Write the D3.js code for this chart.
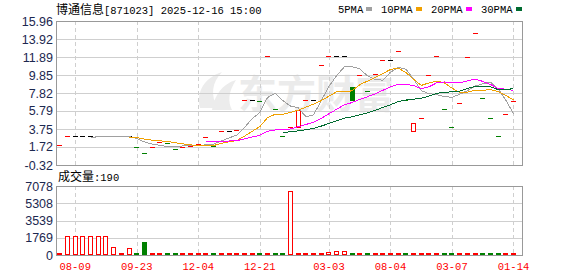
<!DOCTYPE html>
<html>
<head>
<meta charset="utf-8">
<script src="https://cdn.jsdelivr.net/npm/d3@7"></script>
<style>
body { margin: 0; background: #fff; }
text { font-family: "Liberation Sans", Arial, sans-serif; }
.mono { font-family: "Liberation Mono", monospace; font-size: 10.5px; }
.cjk { font-family: "Noto Sans CJK SC", sans-serif; font-size: 12px; }
</style>
</head>
<body>
<div id="chart"></div>
<script>
// ---- data ----
var stockName = "博通信息";
var stockInfo = "[871023] 2025-12-16 15:00";
var volumeLabel = "成交量";
var lastVolume = 190;

var dateLabels = ["08-09", "09-23", "12-04", "12-21", "03-03", "08-04", "03-07", "01-14"];
var labelSlots = [2, 10, 18, 26, 35, 43, 51, 59];

var opens = [1.90, 2.92, 2.92, 2.92, 2.92, 2.92, 2.92, 2.92, 2.92, 2.92,
             1.68, 1.00, 1.68, 2.30, 2.13, 1.46, 1.68, 1.83, 2.07, 2.81,
             1.83, 3.49, 3.49, 3.64, 6.99, 6.99, 6.92, 11.97, 5.98, 2.92,
             3.94, 3.94, 6.99, 6.99, 10.99, 11.97, 11.97, 11.97, 8.48, 9.82,
             8.01, 9.97, 11.52, 11.52, 12.53, 7.03, 3.56, 4.96, 9.82, 11.97,
             5.98, 3.94, 6.65, 11.86, 14.57, 7.22, 4.96, 2.92, 5.41, 6.92];

var closes = [1.90, 2.92, 2.92, 2.92, 2.92, 2.92, 2.92, 2.92, 2.92, 2.92,
              1.68, 1.00, 1.68, 2.30, 2.13, 1.46, 1.68, 1.83, 2.07, 2.81,
              1.83, 3.49, 3.49, 3.64, 6.99, 6.99, 6.92, 11.97, 5.98, 2.92,
              3.94, 5.89, 6.99, 6.99, 10.99, 11.97, 11.97, 11.97, 7.03, 9.82,
              8.01, 9.97, 11.52, 11.52, 12.53, 7.03, 4.39, 4.96, 9.82, 11.97,
              5.98, 3.94, 6.65, 11.86, 14.57, 7.22, 4.96, 2.92, 5.41, 6.92];

var volumes = [60, 1950, 1950, 1950, 1950, 1950, 1950, 790, 40, 690,
               60, 1330, 90, 80, 100, 90, 80, 100, 90, 80,
               90, 100, 80, 90, 100, 80, 90, 100, 90, 80,
               6550, 100, 90, 80, 100, 310, 410, 410, 200, 90,
               100, 80, 90, 200, 100, 90, 80, 100, 90, 80,
               100, 90, 80, 100, 90, 80, 100, 90, 80, 190];

var priceTicks = [15.96, 13.92, 11.89, 9.85, 7.82, 5.79, 3.75, 1.72, -0.32];
var volumeTicks = [7078, 5308, 3539, 1769, 0];
var maPeriods = [5, 10, 20, 30];
var maNames = ["5PMA", "10PMA", "20PMA", "30PMA"];

// ---- layout ----
var width = 578, height = 276;
var left = 56, right = 522;
var priceTop = 21, priceBottom = 165;
var volTop = 186, volBottom = 255;
var maColors = ["#a0a0a0", "#f0a000", "#ff00ff", "#006b30"];
var red = "#ff0000", green = "#008000", grid = "#cfcfcf", frame = "#999";

var svg = d3.select("#chart").append("svg")
    .attr("width", width)
    .attr("height", height);

var xScale = d3.scaleBand()
    .domain(d3.range(closes.length))
    .range([left, left + (right - left) * 0.99])
    .paddingInner(0.35)
    .paddingOuter(0.175);
var bw = xScale.bandwidth();
var cx = i => xScale(i) + bw / 2;

var yPrice = d3.scaleLinear().domain([-0.32, 15.96]).range([priceBottom, priceTop]);
var yVol = d3.scaleLinear().domain([0, 7078]).range([volBottom, volTop]);

// watermark
svg.append("path")
    .attr("d", "M200,108 C196,92 204,78 222,72 C212,82 210,96 218,108 Z M212,110 C214,96 222,84 236,80 C228,92 228,102 232,110 Z")
    .attr("fill", "#ececec");
svg.append("text")
    .attr("x", 238).attr("y", 108)
    .attr("class", "cjk")
    .style("font-size", "39px")
    .style("font-weight", "bold")
    .attr("fill", "#ebebeb")
    .text("东方财富");

// grids
function drawGrid(yScale, ticks, top, bottom) {
  svg.append("g").selectAll("line")
    .data(ticks.slice(1, -1))
    .enter().append("line")
    .attr("x1", left).attr("x2", right)
    .attr("y1", d => Math.round(yScale(d)) + 0.5)
    .attr("y2", d => Math.round(yScale(d)) + 0.5)
    .attr("stroke", grid);
  svg.append("g").selectAll("line")
    .data(labelSlots)
    .enter().append("line")
    .attr("x1", d => Math.round(cx(d)) + 0.5)
    .attr("x2", d => Math.round(cx(d)) + 0.5)
    .attr("y1", top).attr("y2", bottom)
    .attr("stroke", grid)
    .attr("stroke-dasharray", "4,3");
  svg.append("rect")
    .attr("x", left + 0.5).attr("y", top + 0.5)
    .attr("width", right - left).attr("height", bottom - top)
    .attr("fill", "none").attr("stroke", frame);
}
drawGrid(yPrice, priceTicks, priceTop, priceBottom);
drawGrid(yVol, volumeTicks, volTop, volBottom);

// axis labels
svg.append("g").selectAll("text")
  .data(priceTicks)
  .enter().append("text")
  .attr("x", left - 3)
  .attr("y", d => yPrice(d) + 4.5)
  .attr("text-anchor", "end")
  .attr("fill", "#1c2850")
  .style("font-size", "12.5px")
  .text(d => d.toFixed(2));

svg.append("g").selectAll("text")
  .data(volumeTicks)
  .enter().append("text")
  .attr("x", left - 3)
  .attr("y", d => yVol(d) + 4.5)
  .attr("text-anchor", "end")
  .attr("fill", "#1c2850")
  .style("font-size", "12.5px")
  .text(d => d);

svg.append("g").selectAll("text")
  .data(dateLabels)
  .enter().append("text")
  .attr("class", "mono")
  .attr("x", (d, i) => cx(labelSlots[i]))
  .attr("y", 270)
  .attr("text-anchor", "middle")
  .attr("fill", red)
  .text(d => d);

// title + legend
var t = svg.append("text").attr("x", left).attr("y", 13.5);
t.append("tspan").attr("class", "cjk").text(stockName);
t.append("tspan").attr("class", "mono").text(stockInfo);

var lx = 338;
maNames.forEach(function(name, i) {
  var txt = svg.append("text")
    .attr("class", "mono")
    .attr("x", lx).attr("y", 12.5)
    .attr("fill", "#000")
    .text(name);
  var w = txt.node().getComputedTextLength();
  svg.append("rect")
    .attr("x", Math.round(lx + w + 3)).attr("y", 7)
    .attr("width", 6).attr("height", 4)
    .attr("fill", maColors[i]);
  lx = Math.round(lx + w + 3) + 6 + 9;
});

var vt = svg.append("text").attr("x", left + 2).attr("y", 181);
vt.append("tspan").attr("class", "cjk").text(volumeLabel);
vt.append("tspan").attr("class", "mono").text(":" + lastVolume);

// candle colours
function candleColor(i) {
  if (closes[i] > opens[i]) return red;
  if (closes[i] < opens[i]) return green;
  if (i === 0) return red;
  if (closes[i] > closes[i - 1]) return red;
  if (closes[i] < closes[i - 1]) return green;
  return "#000";
}

// candles
var cg = svg.append("g").attr("shape-rendering", "crispEdges");
closes.forEach(function(c, i) {
  var x0 = Math.round(cx(i) - bw / 2);
  var col = candleColor(i);
  if (opens[i] === c) {
    cg.append("rect")
      .attr("x", x0).attr("y", Math.round(yPrice(c)))
      .attr("width", Math.round(bw)).attr("height", 1)
      .attr("fill", col);
  } else {
    var top = Math.round(yPrice(Math.max(c, opens[i])));
    var bot = Math.round(yPrice(Math.min(c, opens[i])));
    if (c > opens[i]) {
      cg.append("rect")
        .attr("x", x0 + 0.5).attr("y", top + 0.5)
        .attr("width", Math.round(bw) - 1).attr("height", bot - top)
        .attr("fill", "#fff").attr("stroke", red);
    } else {
      cg.append("rect")
        .attr("x", x0).attr("y", top)
        .attr("width", Math.round(bw)).attr("height", bot - top + 1)
        .attr("fill", green);
    }
  }
});

// moving averages
function movingAvg(n) {
  return closes.map((c, i) => i < n - 1 ? null : d3.mean(closes.slice(i - n + 1, i + 1)));
}
var line = d3.line()
  .defined(d => d != null)
  .x((d, i) => cx(i))
  .y(d => yPrice(d));
maPeriods.forEach(function(n, k) {
  svg.append("path")
    .datum(movingAvg(n))
    .attr("d", line)
    .attr("fill", "none")
    .attr("stroke", maColors[k])
    .attr("stroke-width", 1)
    .attr("shape-rendering", "crispEdges");
});

// volume bars
var vg = svg.append("g").attr("shape-rendering", "crispEdges");
volumes.forEach(function(v, i) {
  var x0 = Math.round(cx(i) - bw / 2);
  var top = Math.round(yVol(v));
  var col = candleColor(i) === green ? green : red;
  if (col === red) {
    vg.append("rect")
      .attr("x", x0 + 0.5).attr("y", Math.min(top, volBottom - 2) + 0.5)
      .attr("width", Math.round(bw) - 1)
      .attr("height", Math.max(1, volBottom - 1 - Math.min(top, volBottom - 2)))
      .attr("fill", "#fff").attr("stroke", red);
  } else {
    vg.append("rect")
      .attr("x", x0).attr("y", Math.min(top, volBottom - 2))
      .attr("width", Math.round(bw))
      .attr("height", volBottom - Math.min(top, volBottom - 2))
      .attr("fill", green);
  }
});
</script>
</body>
</html>
